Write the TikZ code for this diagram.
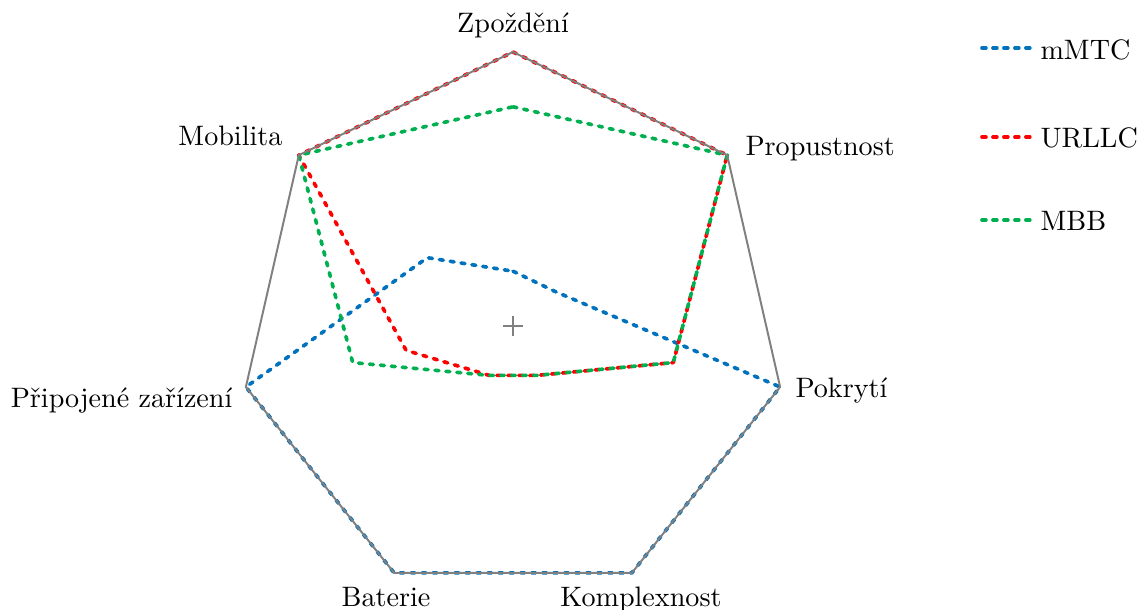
\documentclass[tikz,border=0pt]{standalone}
\usetikzlibrary{calc}
\definecolor{cmmtc}{RGB}{0,114,189}
\definecolor{curllc}{RGB}{255,0,0}
\definecolor{cmbb}{RGB}{0,176,80}
\definecolor{cframe}{RGB}{128,128,128}
\tikzset{
  series/.style={line width=1.3pt, line cap=round, line join=round, dash pattern=on 1.4pt off 2.5pt},
  frameline/.style={draw=cframe, line width=0.7pt, line join=miter},
  axislabel/.style={font=\normalsize, inner sep=0pt},
  legtext/.style={anchor=west, inner sep=0pt, font=\normalsize},
}
\begin{document}
\begin{tikzpicture}[x=0.0125cm,y=-0.0125cm]
\useasboundingbox (0,0) rectangle (1141,609);
\coordinate (c) at (513,326);
\begin{scope}[shift={(c)}, x=0.0125cm, y=0.0125cm]
  % outer vertices
  \foreach \i/\a in {1/90,2/38.571,3/-12.857,4/-64.286,5/-115.714,6/-167.143,7/141.429}{
    \coordinate (v\i) at (\a:274);
  }
  % mMTC
  \foreach \i/\a/\r in {1/90/0.2,2/38.571/0.2,3/-12.857/1,4/-64.286/1,5/-115.714/1,6/-167.143/1,7/141.429/0.4}{
    \coordinate (m\i) at (\a:274*\r);
  }
  % URLLC
  \foreach \i/\a/\r in {1/90/1,2/38.571/1,3/-12.857/0.6,4/-64.286/0.2,5/-115.714/0.2,6/-167.143/0.4,7/141.429/1}{
    \coordinate (u\i) at (\a:274*\r);
  }
  % MBB
  \foreach \i/\a/\r in {1/90/0.8,2/38.571/1,3/-12.857/0.6,4/-64.286/0.2,5/-115.714/0.2,6/-167.143/0.6,7/141.429/1}{
    \coordinate (b\i) at (\a:274*\r);
  }
\end{scope}

\draw[series, cmmtc] (m1) -- (m2) -- (m3) -- (m4) -- (m5) -- (m6) -- (m7) -- cycle;
\draw[series, curllc] (u1) -- (u2) -- (u3) -- (u4) -- (u5) -- (u6) -- (u7) -- cycle;
\draw[series, cmbb] (b1) -- (b2) -- (b3) -- (b4) -- (b5) -- (b6) -- (b7) -- cycle;

\draw[frameline] (v1) -- (v2) -- (v3) -- (v4) -- (v5) -- (v6) -- (v7) -- cycle;

% center marker
\draw[cframe, line width=0.7pt] ($(c)+(-10,0)$) -- ($(c)+(10,0)$);
\draw[cframe, line width=0.7pt] ($(c)+(0,-10)$) -- ($(c)+(0,10)$);

% axis labels
\node[axislabel, anchor=base] (l1) at (513,32) {Zpoždění};
\node[axislabel, anchor=base west] (l2) at (745,155) {Propustnost};
\node[axislabel, anchor=base west] (l3) at (795,397) {Pokrytí};
\node[axislabel, anchor=base] (l4) at (641,606) {Komplexnost};
\node[axislabel, anchor=base] (l5) at (386,606) {Baterie};
\node[axislabel, anchor=base east] (l6) at (233,407) {Připojené zařízení};
\node[axislabel, anchor=base east] (l7) at (283,145) {Mobilita};

% legend
\coordinate (a1) at (982,48); \coordinate (a2) at (1033,48);
\coordinate (a3) at (982,137); \coordinate (a4) at (1033,137);
\coordinate (a5) at (982,220); \coordinate (a6) at (1033,220);
\draw[series, cmmtc] (a1) -- (a2);
\draw[series, curllc] (a3) -- (a4);
\draw[series, cmbb] (a5) -- (a6);
\node[legtext] (t1) at (1040,50) {mMTC};
\node[legtext] (t2) at (1040,138) {URLLC};
\node[legtext] (t3) at (1040,221) {MBB};
\end{tikzpicture}
\end{document}
